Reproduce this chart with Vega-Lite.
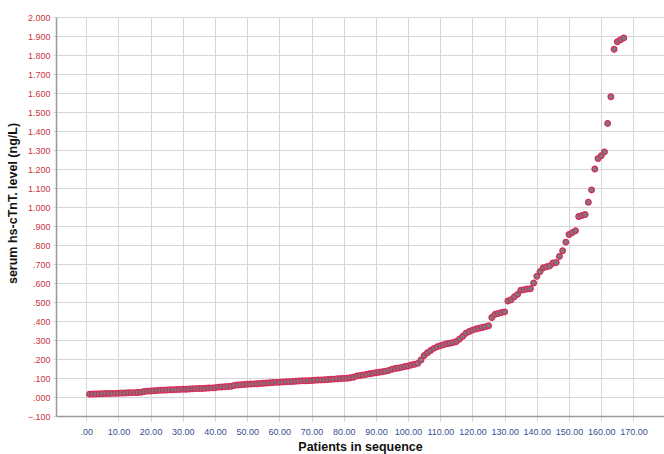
{
  "$schema": "https://vega.github.io/schema/vega-lite/v6.json",
  "width": 608,
  "height": 399,
  "autosize": "none",
  "padding": {"left": 56, "top": 17, "right": 0, "bottom": 38},
  "background": "white",
  "config": {"view": {"stroke": null}, "font": "Liberation Sans"},
  "data": {
    "values": [
      {"p":1,"v":0.015},{"p":2,"v":0.016},{"p":3,"v":0.016},{"p":4,"v":0.017},{"p":5,"v":0.017},
      {"p":6,"v":0.018},{"p":7,"v":0.018},{"p":8,"v":0.019},{"p":9,"v":0.019},{"p":10,"v":0.020},
      {"p":11,"v":0.021},{"p":12,"v":0.021},{"p":13,"v":0.022},{"p":14,"v":0.023},{"p":15,"v":0.023},
      {"p":16,"v":0.024},{"p":17,"v":0.025},{"p":18,"v":0.029},{"p":19,"v":0.031},{"p":20,"v":0.032},
      {"p":21,"v":0.033},{"p":22,"v":0.034},{"p":23,"v":0.035},{"p":24,"v":0.036},{"p":25,"v":0.037},
      {"p":26,"v":0.038},{"p":27,"v":0.038},{"p":28,"v":0.039},{"p":29,"v":0.040},{"p":30,"v":0.041},
      {"p":31,"v":0.041},{"p":32,"v":0.042},{"p":33,"v":0.043},{"p":34,"v":0.044},{"p":35,"v":0.045},
      {"p":36,"v":0.045},{"p":37,"v":0.046},{"p":38,"v":0.047},{"p":39,"v":0.048},{"p":40,"v":0.049},
      {"p":41,"v":0.052},{"p":42,"v":0.053},{"p":43,"v":0.054},{"p":44,"v":0.055},{"p":45,"v":0.057},
      {"p":46,"v":0.061},{"p":47,"v":0.063},{"p":48,"v":0.065},{"p":49,"v":0.066},{"p":50,"v":0.067},
      {"p":51,"v":0.068},{"p":52,"v":0.069},{"p":53,"v":0.070},{"p":54,"v":0.071},{"p":55,"v":0.072},
      {"p":56,"v":0.074},{"p":57,"v":0.075},{"p":58,"v":0.076},{"p":59,"v":0.077},{"p":60,"v":0.078},
      {"p":61,"v":0.079},{"p":62,"v":0.080},{"p":63,"v":0.081},{"p":64,"v":0.082},{"p":65,"v":0.083},
      {"p":66,"v":0.084},{"p":67,"v":0.085},{"p":68,"v":0.085},{"p":69,"v":0.086},{"p":70,"v":0.087},
      {"p":71,"v":0.088},{"p":72,"v":0.089},{"p":73,"v":0.090},{"p":74,"v":0.091},{"p":75,"v":0.092},
      {"p":76,"v":0.093},{"p":77,"v":0.094},{"p":78,"v":0.096},{"p":79,"v":0.097},{"p":80,"v":0.098},
      {"p":81,"v":0.099},{"p":82,"v":0.101},{"p":83,"v":0.104},{"p":84,"v":0.110},{"p":85,"v":0.113},
      {"p":86,"v":0.116},{"p":87,"v":0.119},{"p":88,"v":0.122},{"p":89,"v":0.125},{"p":90,"v":0.128},
      {"p":91,"v":0.130},{"p":92,"v":0.133},{"p":93,"v":0.136},{"p":94,"v":0.140},{"p":95,"v":0.146},
      {"p":96,"v":0.150},{"p":97,"v":0.153},{"p":98,"v":0.156},{"p":99,"v":0.160},{"p":100,"v":0.163},
      {"p":101,"v":0.168},{"p":102,"v":0.172},{"p":103,"v":0.177},{"p":104,"v":0.195},{"p":105,"v":0.218},
      {"p":106,"v":0.233},{"p":107,"v":0.245},{"p":108,"v":0.256},{"p":109,"v":0.264},{"p":110,"v":0.270},
      {"p":111,"v":0.275},{"p":112,"v":0.280},{"p":113,"v":0.283},{"p":114,"v":0.287},{"p":115,"v":0.292},
      {"p":116,"v":0.305},{"p":117,"v":0.320},{"p":118,"v":0.336},{"p":119,"v":0.345},{"p":120,"v":0.352},
      {"p":121,"v":0.358},{"p":122,"v":0.362},{"p":123,"v":0.366},{"p":124,"v":0.370},{"p":125,"v":0.375},
      {"p":126,"v":0.418},{"p":127,"v":0.435},{"p":128,"v":0.440},{"p":129,"v":0.445},{"p":130,"v":0.448},
      {"p":131,"v":0.505},{"p":132,"v":0.512},{"p":133,"v":0.528},{"p":134,"v":0.540},{"p":135,"v":0.562},
      {"p":136,"v":0.565},{"p":137,"v":0.568},{"p":138,"v":0.570},{"p":139,"v":0.600},{"p":140,"v":0.635},
      {"p":141,"v":0.660},{"p":142,"v":0.680},{"p":143,"v":0.685},{"p":144,"v":0.690},{"p":145,"v":0.705},
      {"p":146,"v":0.708},{"p":147,"v":0.740},{"p":148,"v":0.770},{"p":149,"v":0.815},{"p":150,"v":0.855},
      {"p":151,"v":0.865},{"p":152,"v":0.875},{"p":153,"v":0.950},{"p":154,"v":0.955},{"p":155,"v":0.960},
      {"p":156,"v":1.025},{"p":157,"v":1.090},{"p":158,"v":1.200},{"p":159,"v":1.255},{"p":160,"v":1.270},
      {"p":161,"v":1.290},{"p":162,"v":1.440},{"p":163,"v":1.580},{"p":164,"v":1.830},{"p":165,"v":1.870},
      {"p":166,"v":1.880},{"p":167,"v":1.890}
    ]
  },
  "mark": {"type": "point", "filled": true, "fill": "#7b7b7b", "stroke": "#d92b5a", "strokeWidth": 1.3, "size": 32, "opacity": 1, "fillOpacity": 1, "strokeOpacity": 1},
  "encoding": {
    "x": {
      "field": "p", "type": "quantitative",
      "scale": {"domain": [-9.4, 179.5], "nice": false, "zero": false},
      "axis": {
        "values": [0,10,20,30,40,50,60,70,80,90,100,110,120,130,140,150,160,170],
        "labelExpr": "datum.value == 0 ? '.00' : format(datum.value, '.2f')",
        "labelColor": "#3c4d8c", "labelFontSize": 9, "labelPadding": 6,
        "grid": true, "gridColor": "#d6d6d6", "gridWidth": 1,
        "domainColor": "#9a9a9a", "domainWidth": 1.5,
        "tickColor": "#d6d6d6", "tickSize": 5,
        "title": "Patients in sequence", "titleFontSize": 12.5, "titleFontWeight": "bold", "titleColor": "#111111",
        "titleY": 34, "titleBaseline": "alphabetic"
      }
    },
    "y": {
      "field": "v", "type": "quantitative",
      "scale": {"domain": [-0.1, 2.0], "nice": false, "zero": false},
      "axis": {
        "values": [-0.1,0,0.1,0.2,0.3,0.4,0.5,0.6,0.7,0.8,0.9,1.0,1.1,1.2,1.3,1.4,1.5,1.6,1.7,1.8,1.9,2.0],
        "labelExpr": "abs(datum.value) < 1 ? replace(format(datum.value, '.3f'), '0.', '.') : format(datum.value, '.3f')",
        "labelColor": "#c8363c", "labelFontSize": 9, "labelPadding": 3,
        "grid": true, "gridColor": "#d6d6d6", "gridWidth": 1,
        "domainColor": "#9a9a9a", "domainWidth": 1.5,
        "tickColor": "#d6d6d6", "tickSize": 3,
        "title": "serum hs-cTnT. level (ng/L)", "titleFontSize": 12.5, "titleFontWeight": "bold", "titleColor": "#111111",
        "titleAngle": -90, "titleX": -40, "titleY": 186, "titleAlign": "center", "titleBaseline": "alphabetic"
      }
    }
  }
}
